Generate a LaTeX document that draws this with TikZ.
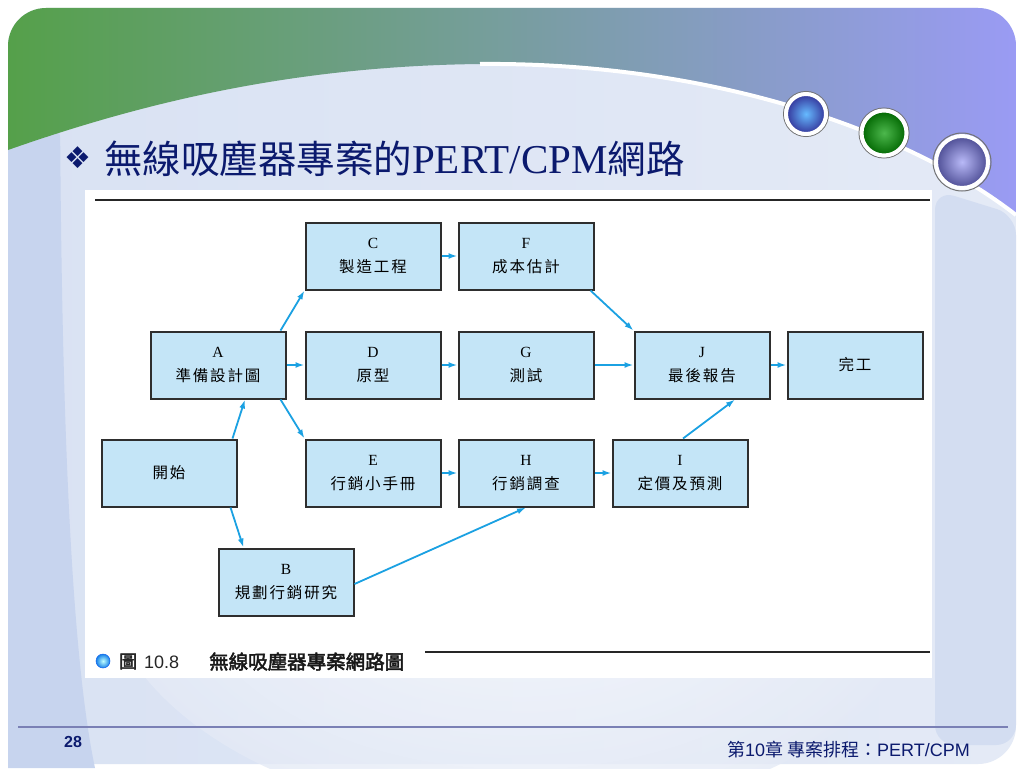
\documentclass[tikz,border=0pt]{standalone}
\usepackage{fontspec}
\setmainfont{Liberation Serif}
\newfontfamily\cjk{Noto Sans CJK TC}[LetterSpace=12]
\newfontfamily\cjkt{Noto Sans CJK TC}
\newfontfamily\cjkb{Noto Sans CJK TC}[FakeBold=2.5]
\newfontfamily\sans{Liberation Sans}
\newfontfamily\dejavu{DejaVu Sans}
\usetikzlibrary{arrows.meta}
\definecolor{navy}{HTML}{0B1A6E}
\definecolor{bandG}{HTML}{55A04A}
\definecolor{bandM}{HTML}{6F9EA6}
\definecolor{bandP}{HTML}{9A9BF4}
\definecolor{slideL}{HTML}{D9E2F3}
\definecolor{slideR}{HTML}{E4EAF6}
\definecolor{strip}{HTML}{C7D4EE}
\definecolor{boxfill}{HTML}{C4E5F7}
\definecolor{boxline}{HTML}{2E2E2E}
\definecolor{arrowc}{HTML}{1BA1E2}
\definecolor{footline}{HTML}{7A80B5}
\tikzset{
  box/.style={draw=boxline, fill=boxfill, line width=2pt, minimum width=135pt,
    minimum height=67pt, inner sep=0pt, align=center, font=\fontsize{15.5}{24}\selectfont},
  arr/.style={draw=arrowc, line width=1.8pt, -{Latex[length=9pt,width=6pt]}},
  ball/.style={draw=white, line width=4pt}
}
\begin{document}
\begin{tikzpicture}[x=1pt,y=-1pt]
\useasboundingbox (0,0) rectangle (1024,768);
\fill[white] (0,0) rectangle (1024,768);
% slide base
\shade[rounded corners=38pt, left color=slideL, right color=slideR] (8,8) rectangle (1016,764);
% light center highlight
\shade[inner color=white!85!slideR, outer color=slideR, opacity=0.8] (520,560) ellipse (420 and 260);
% left strip
\fill[strip, rounded corners=30pt] (8,110) -- (60,110) [sharp corners] .. controls (62,400) and (70,650) .. (95,768) -- (8,768) -- cycle;
% right strip
\fill[strip!60!slideR, rounded corners=20pt] (935,190) -- (1016,215) -- (1016,745) -- (935,745) -- cycle;
% top band
\shade[left color=bandG, middle color=bandM, right color=bandP]
  (8,150) [rounded corners=38pt] -- (8,8) -- (1016,8) [sharp corners] -- (1016,215)
  .. controls (900,125) and (700,62) .. (480,64) .. controls (300,66) and (150,100) .. (8,150) -- cycle;
\draw[white, line width=4pt] (1016,215) .. controls (900,125) and (700,62) .. (480,64);
% balls
\draw[draw=black!55, line width=1pt] (806,114) circle (22.5);
\shade[ball, inner color=blue!45!cyan!60!white, outer color=blue!50!black!80] (806,114) circle (20);
\draw[draw=black!55, line width=1pt] (884,133) circle (25);
\shade[ball, inner color=green!60!black!70!white, outer color=green!40!black] (884,133) circle (22.5);
\draw[draw=black!55, line width=1pt] (962,162) circle (29);
\shade[ball, inner color=bandP!70!white, outer color=blue!40!black!70] (962,162) circle (26);
% title
\node[anchor=base west, text=navy, inner sep=0pt, font=\dejavu\fontsize{30}{30}\selectfont] (bul) at (64,168) {❖};
\node[anchor=base west, text=navy, inner sep=0pt, font=\fontsize{38.5}{38.5}\selectfont] (title) at (104,173)
  {{\cjkt 無線吸塵器專案的}{\fontsize{41}{41}\selectfont PERT/CPM}{\cjkt 網路}};
% figure area
\fill[white] (85,190) rectangle (932,678);
\draw[black!85, line width=2.2pt] (95,200) -- (930,200);
% nodes
\node[box] (C) at (373,256) {C\\{\cjk 製造工程}};
\node[box] (F) at (526,256) {F\\{\cjk 成本估計}};
\node[box] (A) at (218,365) {A\\{\cjk 準備設計圖}};
\node[box] (D) at (373,365) {D\\{\cjk 原型}};
\node[box] (G) at (526,365) {G\\{\cjk 測試}};
\node[box] (J) at (702,365) {J\\{\cjk 最後報告}};
\node[box] (K) at (855,365) {{\cjk 完工}};
\node[box] (S) at (169,473) {{\cjk 開始}};
\node[box] (E) at (373,473) {E\\{\cjk 行銷小手冊}};
\node[box] (H) at (526,473) {H\\{\cjk 行銷調查}};
\node[box] (I) at (680,473) {I\\{\cjk 定價及預測}};
\node[box] (B) at (286,582) {B\\{\cjk 規劃行銷研究}};
% arrows
\draw[arr] ([xshift=-5pt]S.north east) -- ([xshift=27pt]A.south);
\draw[arr] ([xshift=-7pt]S.south east) -- ([xshift=26pt]B.north west);
\draw[arr] ([xshift=-6pt]A.north east) -- (C.south west);
\draw[arr] (A.east) -- (D.west);
\draw[arr] ([xshift=-6pt]A.south east) -- (E.north west);
\draw[arr] (C.east) -- (F.west);
\draw[arr] (D.east) -- (G.west);
\draw[arr] ([xshift=-4pt]F.south east) -- (J.north west);
\draw[arr] (G.east) -- (J.west);
\draw[arr] (J.east) -- (K.west);
\draw[arr] (E.east) -- (H.west);
\draw[arr] (H.east) -- (I.west);
\draw[arr] ([xshift=3pt]I.north) -- ([xshift=33pt]J.south);
\draw[arr] ([yshift=-2pt]B.east) -- (H.south);
% caption
\shade[inner color=cyan!25!white, outer color=arrowc!80!blue, draw=arrowc!60!blue, line width=0.5pt] (103,661) circle (7);
\node[anchor=base west, inner sep=0pt, text=black!85] (cap1) at (119,668)
  {{\cjkb\fontsize{18}{18}\selectfont 圖}\hspace{7pt}{\sans\fontsize{18}{18}\selectfont 10.8}};
\node[anchor=base west, inner sep=0pt, text=black!90, font=\cjkb\fontsize{19.5}{19.5}\selectfont] (cap2) at (209,669) {無線吸塵器專案網路圖};
\draw[black!85, line width=2pt] (425,652) -- (930,652);
% footer
\draw[footline, line width=2.2pt] (18,727) -- (1008,727);
\node[anchor=base west, inner sep=0pt, text=navy, font=\sans\bfseries\fontsize{16}{16}\selectfont] (pg) at (64,747) {28};
\node[anchor=base east, inner sep=0pt, text=navy, font=\fontsize{18}{18}\selectfont] (ft) at (970,756)
  {{\cjkt 第}{\sans 10}{\cjkt 章 專案排程：}{\sans PERT/CPM}};
\end{tikzpicture}
\end{document}
